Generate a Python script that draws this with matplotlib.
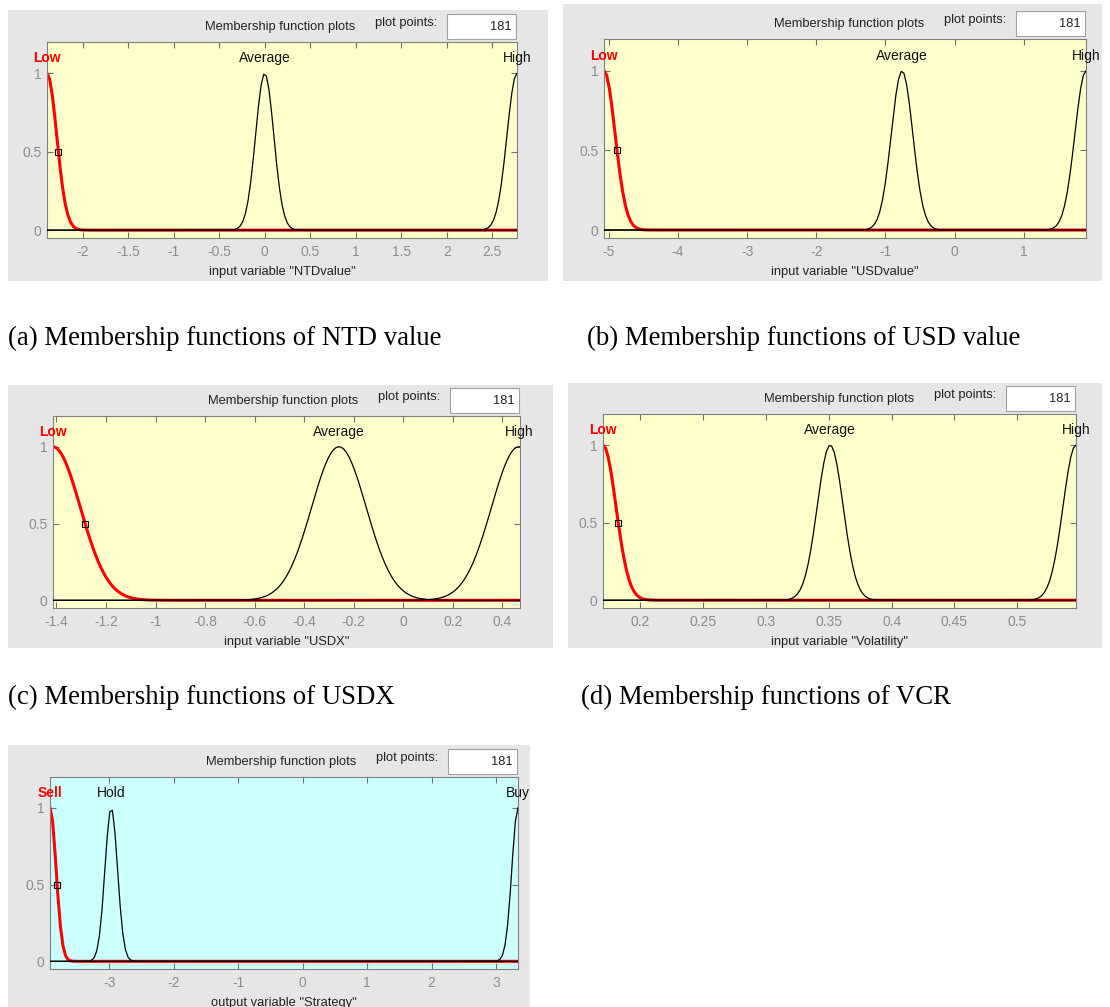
import numpy as np
import matplotlib.pyplot as plt
from matplotlib.patches import Rectangle

plt.rcParams['font.family'] = ['Liberation Sans', 'DejaVu Sans']

# ---- data (gaussmf params) ----
ntd_range = [-2.39, 2.77]
ntd_names = ['Low', 'Average', 'High']
ntd_centers = [-2.39, 0.0, 2.77]
ntd_sigmas = [0.106, 0.10, 0.11]
ntd_ticks = [-2, -1.5, -1, -0.5, 0, 0.5, 1, 1.5, 2, 2.5]

usd_range = [-5.07, 1.90]
usd_names = ['Low', 'Average', 'High']
usd_centers = [-5.07, -0.76, 1.90]
usd_sigmas = [0.16, 0.155, 0.16]
usd_ticks = [-5, -4, -3, -2, -1, 0, 1]

usdx_range = [-1.414, 0.471]
usdx_names = ['Low', 'Average', 'High']
usdx_centers = [-1.414, -0.26, 0.466]
usdx_sigmas = [0.11, 0.11, 0.11]
usdx_ticks = [-1.4, -1.2, -1, -0.8, -0.6, -0.4, -0.2, 0, 0.2, 0.4]

vol_range = [0.1703, 0.5467]
vol_names = ['Low', 'Average', 'High']
vol_centers = [0.1703, 0.3511, 0.5467]
vol_sigmas = [0.0103, 0.0103, 0.0103]
vol_ticks = [0.2, 0.25, 0.3, 0.35, 0.4, 0.45, 0.5]

strat_range = [-3.92, 3.34]
strat_names = ['Sell', 'Hold', 'Buy']
strat_centers = [-3.92, -2.97, 3.34]
strat_sigmas = [0.094, 0.097, 0.095]
strat_ticks = [-3, -2, -1, 0, 1, 2, 3]

n_points = 181

W, H = 1110, 1007
GRAY = '#e6e6e6'
YELLOW = '#ffffcc'
CYAN = '#ccffff'
FS = 9.3

fig = plt.figure(figsize=(W / 100, H / 100), dpi=100)


def frac(x0, y0, x1, y1):
    return [x0 / W, 1 - y1 / H, (x1 - x0) / W, (y1 - y0) / H]


def panel(bg, ax_box, rng, names, centers, sigmas, ticks, xlabel, face):
    # grey window background
    fig.add_artist(Rectangle((bg[0] / W, 1 - bg[3] / H), (bg[2] - bg[0]) / W,
                             (bg[3] - bg[1]) / H, transform=fig.transFigure,
                             fc=GRAY, ec='none', zorder=0))
    right, top = ax_box[2], ax_box[1]
    fig.text((right - 237) / W, 1 - (top - 15) / H, 'Membership function plots',
             ha='center', va='center', fontsize=FS, color='#222222')
    fig.text((right - 111) / W, 1 - (top - 19) / H, 'plot points:',
             ha='center', va='center', fontsize=FS, color='#222222')
    fig.add_artist(Rectangle(((right - 70) / W, 1 - (top - 3) / H), 69 / W, 25 / H,
                             transform=fig.transFigure, fc='white', ec='#a0a0a0',
                             lw=0.8, zorder=1))
    fig.text((right - 5) / W, 1 - (top - 15) / H, str(n_points),
             ha='right', va='center', fontsize=FS, color='#222222', zorder=2)

    ax = fig.add_axes(frac(*ax_box))
    ax.set_facecolor(face)
    x = np.linspace(rng[0], rng[1], n_points)
    for i in range(len(names)):
        y = np.exp(-(x - centers[i]) ** 2 / (2 * sigmas[i] ** 2))
        if i == 0:
            ax.plot(x, y, color='red', lw=2.2, zorder=2)
        else:
            ax.plot(x, y, color='black', lw=0.9, zorder=3)
        ax.text(centers[i], 1.095, names[i], ha='center', va='center', fontsize=10,
                color='red' if i == 0 else '#111111',
                fontweight='bold' if i == 0 else 'normal', clip_on=False)
    # marker on the selected MF at its half point
    mx = centers[0] + sigmas[0] * np.sqrt(2 * np.log(2))
    ax.plot([mx], [0.5], marker='s', ms=5, mfc='none', mec='black', mew=0.8, zorder=4)

    ax.set_xlim(rng)
    ax.set_ylim(-0.05, 1.2)
    ax.set_xticks(ticks)
    ax.set_xticklabels(['{:g}'.format(t) for t in ticks])
    ax.set_yticks([0, 0.5, 1])
    ax.set_yticklabels(['0', '0.5', '1'])
    ax.tick_params(direction='in', length=4, top=True, right=True, color='#707070',
                   labelcolor='#8c8c8c', labelsize=10, pad=4)
    ax.tick_params(axis='x', pad=5)
    for s in ax.spines.values():
        s.set_color('#808080')
    ax.set_xlabel(xlabel, fontsize=FS, color='#222222', labelpad=5)
    return ax


panel((8, 10, 548, 281), (47, 42, 517, 238), ntd_range, ntd_names, ntd_centers,
      ntd_sigmas, ntd_ticks, 'input variable "NTDvalue"', YELLOW)
panel((563, 4, 1102, 281), (604, 39, 1086, 238), usd_range, usd_names, usd_centers,
      usd_sigmas, usd_ticks, 'input variable "USDvalue"', YELLOW)
panel((8, 385, 553, 648), (53, 416, 520, 608), usdx_range, usdx_names, usdx_centers,
      usdx_sigmas, usdx_ticks, 'input variable "USDX"', YELLOW)
panel((568, 383, 1102, 648), (603, 414, 1076, 608), vol_range, vol_names, vol_centers,
      vol_sigmas, vol_ticks, 'input variable "Volatility"', YELLOW)
panel((8, 745, 530, 1010), (50, 777, 518, 969), strat_range, strat_names, strat_centers,
      strat_sigmas, strat_ticks, 'output variable "Strategy"', CYAN)

captions = ['(a) Membership functions of NTD value', '(b) Membership functions of USD value',
            '(c) Membership functions of USDX', '(d) Membership functions of VCR']
cap_pos = [(8, 338), (587, 338), (8, 697), (581, 697)]
for txt, (cx, cy) in zip(captions, cap_pos):
    fig.text(cx / W, 1 - cy / H, txt, ha='left', va='center', fontsize=19.3,
             family='Liberation Serif', color='black')

fig.savefig('out.png', dpi=100)
